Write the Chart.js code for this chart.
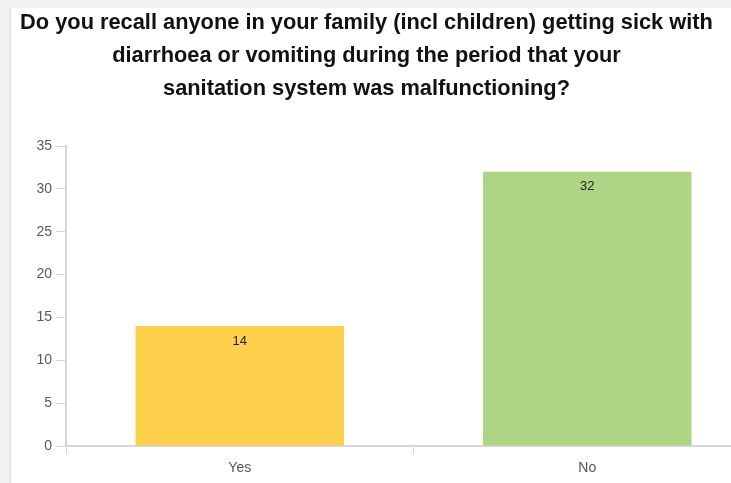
<!DOCTYPE html>
<html>
<head>
<meta charset="utf-8">
<script src="https://cdn.jsdelivr.net/npm/chart.js@4/dist/chart.umd.min.js"></script>
<style>
  html, body { margin: 0; padding: 0; width: 731px; height: 483px; overflow: hidden; background: #f1f1f1; }
  #panel { position: absolute; left: 10px; top: 8px; width: 800px; height: 475px; background: #fff; border-left: 1px solid #e0e0e0; }
  #wrap { position: absolute; left: 0; top: 0; width: 760px; height: 475px; }
  #titulo { position: absolute; left: 0; top: 5px; width: 733px; text-align: center;
            font: bold 21.8px "Liberation Sans", Arial, sans-serif; line-height: 33px; color: #111; }
</style>
</head>
<body>
<div id="panel">
  <div id="wrap"><canvas id="grafico"></canvas></div>
</div>
<div id="titulo">Do you recall anyone in your family (incl children) getting sick with<br>diarrhoea or vomiting during the period that your<br>sanitation system was malfunctioning?</div>
<script>
// Datos de la encuesta
const categorias = ['Yes', 'No'];
const respuestas = [14, 32];
const colores = ['#fed14c', '#aed583'];
const ejeY = { min: 0, max: 35, paso: 5 };

const fuente = '"Liberation Sans", Arial, sans-serif';

// Escribe el valor dentro de cada barra, cerca del borde superior
const etiquetasBarras = {
    id: 'etiquetasBarras',
    afterDatasetsDraw(chart) {
        const ctx = chart.ctx;
        const meta = chart.getDatasetMeta(0);
        ctx.save();
        ctx.font = '13px ' + fuente;
        ctx.fillStyle = '#222';
        ctx.textAlign = 'center';
        ctx.textBaseline = 'middle';
        meta.data.forEach((barra, i) => {
            ctx.fillText(String(respuestas[i]), barra.x, barra.y + 15);
        });
        ctx.restore();
    }
};

const ctx = document.getElementById('grafico').getContext('2d');
new Chart(ctx, {
    type: 'bar',
    data: {
        labels: categorias,
        datasets: [{
            data: respuestas,
            backgroundColor: colores,
            borderWidth: 0,
            barPercentage: 0.6,
            categoryPercentage: 1
        }]
    },
    options: {
        responsive: true,
        maintainAspectRatio: false,
        animation: false,
        layout: { padding: { top: 138, right: 10, bottom: 0, left: 0 } },
        plugins: {
            legend: { display: false },
            tooltip: { enabled: false }
        },
        scales: {
            x: {
                afterFit: (scale) => { scale.height = 37; },
                border: { color: '#d6d6d6', width: 2 },
                grid: { drawOnChartArea: false, drawTicks: true, tickLength: 8, color: '#d6d6d6', lineWidth: 1 },
                ticks: { color: '#555', padding: 6, font: { size: 14, family: fuente } }
            },
            y: {
                min: ejeY.min,
                max: ejeY.max,
                afterFit: (scale) => { scale.width = 55; },
                border: { color: '#d6d6d6', width: 2 },
                grid: { drawOnChartArea: false, drawTicks: true, tickLength: 10, color: '#d6d6d6', lineWidth: 1 },
                ticks: { stepSize: ejeY.paso, color: '#5a5a5a', padding: 4, font: { size: 14, family: fuente } }
            }
        }
    },
    plugins: [etiquetasBarras]
});
</script>
</body>
</html>
